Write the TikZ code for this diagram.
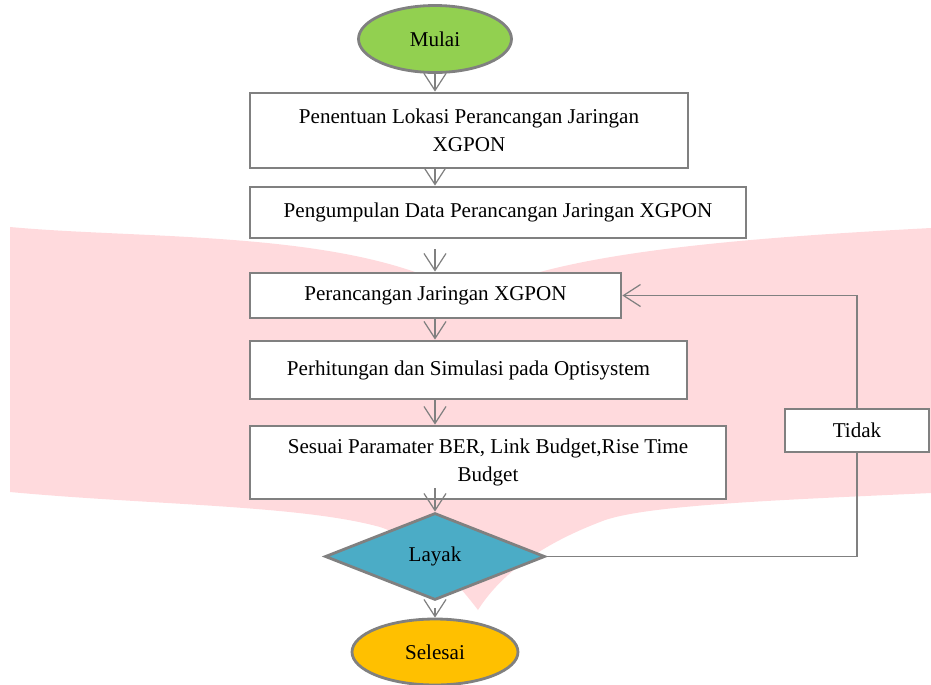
\documentclass[tikz,border=0pt]{standalone}
\usepackage{fontspec}
\setmainfont{Liberation Serif}
\usetikzlibrary{positioning,shapes.geometric,arrows.meta}

\definecolor{hijau}{RGB}{146,208,80}
\definecolor{biru}{RGB}{75,172,198}
\definecolor{jingga}{RGB}{255,192,0}
\definecolor{abu}{RGB}{128,128,128}
\definecolor{latar}{RGB}{255,218,221}

\begin{document}
\begin{tikzpicture}[%
  x=0.02cm,
  y=-0.02cm,
  font=\fontsize{12}{16}\selectfont,
  >={Straight Barb[length=0.34cm,width=0.44cm]},
  kotak/.style={
    draw=abu,
    line width=1.6pt,
    fill=white,
    align=center,
    inner sep=0pt,},
  ujung/.style={
    ellipse,
    draw=abu,
    line width=1.6pt,
    inner sep=0pt,},
  pil/.style={
    ->,
    draw=abu,
    line width=0.7pt,},
  garisan/.style={
    draw=abu,
    line width=0.7pt,}
  ]
  \useasboundingbox (0,0) rectangle (931,684);
  %% Background
  \fill[latar] (10,227) .. controls (130,238) and (300,232) .. (415,272)
    .. controls (445,283) and (465,295) .. (478,305)
    .. controls (495,292) and (515,280) .. (540,272)
    .. controls (640,245) and (800,235) .. (931,228)
    -- (931,493)
    .. controls (780,500) and (640,505) .. (600,522)
    .. controls (540,545) and (500,575) .. (478,610)
    .. controls (455,580) and (420,540) .. (380,527)
    .. controls (300,505) and (150,505) .. (10,492) -- cycle;
  %% Nodes
  \node[ujung, fill=hijau, minimum width=3.06cm, minimum height=1.34cm] (mulai) at (435,39) {Mulai};
  \node[kotak, minimum width=8.76cm, minimum height=1.5cm] (lokasi) at (469,130.5)
    {Penentuan Lokasi Perancangan Jaringan\\XGPON};
  \node[kotak, minimum width=9.92cm, minimum height=1.02cm] (data) at (498,212.5)
    {Pengumpulan Data Perancangan Jaringan XGPON};
  \node[kotak, minimum width=7.42cm, minimum height=0.9cm] (rancang) at (435.5,295.5)
    {Perancangan Jaringan XGPON};
  \node[kotak, minimum width=8.74cm, minimum height=1.16cm] (hitung) at (468.5,370)
    {Perhitungan dan Simulasi pada Optisystem};
  \node[kotak, minimum width=9.52cm, minimum height=1.46cm] (sesuai) at (488,462.5)
    {Sesuai Paramater BER, Link Budget,Rise Time\\Budget};
  \node[diamond, draw=abu, line width=1.6pt, fill=biru, inner sep=0pt,
    minimum width=4.4cm, minimum height=1.74cm] (layak) at (435,556.5) {Layak};
  \node[ujung, fill=jingga, minimum width=3.32cm, minimum height=1.32cm] (selesai) at (435,652) {Selesai};
  \node[kotak, minimum width=2.88cm, minimum height=0.86cm] (tidak) at (857,430.5) {Tidak};
  %% Edges
  \draw[pil] (mulai) -- (mulai |- lokasi.north);
  \draw[pil] (lokasi.south -| mulai) -- (data.north -| mulai);
  \draw[pil, shorten <=0.2cm] (data.south -| mulai) -- (rancang.north -| mulai);
  \draw[pil] (rancang.south -| mulai) -- (hitung.north -| mulai);
  \draw[pil] (hitung.south -| mulai) -- (sesuai.north -| mulai);
  \draw[pil, shorten <=-0.24cm] (sesuai.south -| mulai) -- (layak.north);
  \draw[pil, shorten <=0.14cm] (layak.south) -- (selesai.north);
  \draw[garisan] (layak.east) -| (tidak.south);
  \draw[pil] (tidak.north) |- (rancang.east);
\end{tikzpicture}
\end{document}
